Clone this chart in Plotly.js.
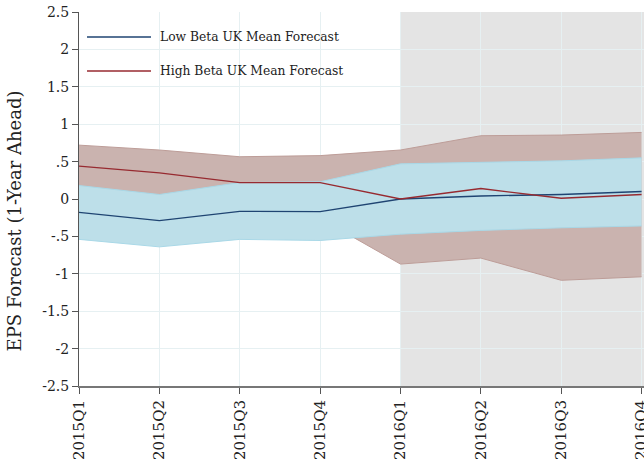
<!DOCTYPE html>
<html>
<head>
<meta charset="utf-8">
<script src="https://cdn.plot.ly/plotly-3.0.1.min.js"></script>
<style>html,body{margin:0;padding:0;background:#fff;}#chart{width:644px;height:460px;}</style>
</head>
<body>
<div id="chart"></div>
<script>
var quarters = ['2015Q1','2015Q2','2015Q3','2015Q4','2016Q1','2016Q2','2016Q3','2016Q4'];
var lowMean  = [-0.18, -0.29, -0.165, -0.17, 0.0, 0.04, 0.06, 0.10];
var highMean = [0.44, 0.35, 0.22, 0.22, 0.0, 0.14, 0.01, 0.06];
var lowUpper = [0.18, 0.06, 0.22, 0.23, 0.47, 0.495, 0.51, 0.55];
var lowLower = [-0.54, -0.64, -0.54, -0.555, -0.47, -0.42, -0.385, -0.36];
var highUpper = [0.72, 0.655, 0.565, 0.58, 0.655, 0.846, 0.855, 0.89];
var highLower = [0.15, 0.05, -0.10, -0.26, -0.87, -0.79, -1.087, -1.04];
var yTickVals = [-2.5,-2,-1.5,-1,-0.5,0,0.5,1,1.5,2,2.5];
var yTickText = ['-2.5','-2','-1.5','-1','-.5','0','.5','1','1.5','2','2.5'];
var legendNames = ['Low Beta UK Mean Forecast','High Beta UK Mean Forecast'];
var yTitle = 'EPS Forecast (1-Year Ahead)';

var xs = quarters.map(function(q, i){ return i; });
var FONT = 'DejaVu Serif';

var traces = [
  {x: xs, y: highLower, mode: 'lines', line: {color: '#bd9d98', width: 1}, hoverinfo: 'skip', showlegend: false},
  {x: xs, y: highUpper, mode: 'lines', fill: 'tonexty', fillcolor: '#cab3af', line: {color: '#bd9d98', width: 1}, hoverinfo: 'skip', showlegend: false},
  {x: xs, y: lowLower, mode: 'lines', line: {color: '#a9d8e7', width: 1}, hoverinfo: 'skip', showlegend: false},
  {x: xs, y: lowUpper, mode: 'lines', fill: 'tonexty', fillcolor: '#bddfe9', line: {color: '#a9d8e7', width: 1}, hoverinfo: 'skip', showlegend: false},
  {x: xs, y: lowMean, mode: 'lines', line: {color: '#1f4472', width: 1.3}, hoverinfo: 'skip', showlegend: false},
  {x: xs, y: highMean, mode: 'lines', line: {color: '#972a30', width: 1.3}, hoverinfo: 'skip', showlegend: false}
];

var layout = {
  width: 644, height: 460,
  margin: {l: 79, r: 0, t: 12, b: 74, pad: 0},
  paper_bgcolor: '#ffffff', plot_bgcolor: '#ffffff',
  font: {family: FONT, size: 12, color: '#222'},
  showlegend: false,
  xaxis: {
    range: [0, 7.03], tickmode: 'array', tickvals: xs, ticktext: quarters,
    tickangle: -90, ticks: 'outside', ticklen: 6, tickcolor: '#555', tickwidth: 1,
    showgrid: true, gridcolor: '#e6f0f2', gridwidth: 1,
    showline: true, linecolor: '#777', linewidth: 2,
    ticklabeloverflow: 'allow',
    zeroline: false, tickfont: {family: FONT, size: 15, color: '#222'}, fixedrange: true
  },
  yaxis: {
    range: [-2.5, 2.5], tickmode: 'array', tickvals: yTickVals, ticktext: yTickText,
    ticks: 'outside', ticklen: 6, tickcolor: '#555', tickwidth: 1,
    showgrid: true, gridcolor: '#e6f0f2', gridwidth: 1,
    showline: true, linecolor: '#555', linewidth: 1,
    zeroline: false, tickfont: {family: FONT, size: 14, color: '#222'}, fixedrange: true
  },
  shapes: [
    {type: 'rect', xref: 'x', yref: 'paper', x0: 4, x1: 7.03, y0: 0, y1: 1, fillcolor: '#e4e4e4', line: {width: 0}, layer: 'between'},
    {type: 'line', xref: 'paper', yref: 'paper', x0: 0.0142, x1: 0.1274, y0: 0.9332, y1: 0.9332, line: {color: '#1f4472', width: 1.3}},
    {type: 'line', xref: 'paper', yref: 'paper', x0: 0.0142, x1: 0.1274, y0: 0.8422, y1: 0.8422, line: {color: '#972a30', width: 1.3}}
  ],
  annotations: [
    {xref: 'paper', yref: 'paper', x: 0.1398, y: 0.9332, xanchor: 'left', yanchor: 'middle', text: legendNames[0], showarrow: false, font: {family: FONT, size: 12.3, color: '#222'}},
    {xref: 'paper', yref: 'paper', x: 0.1398, y: 0.8422, xanchor: 'left', yanchor: 'middle', text: legendNames[1], showarrow: false, font: {family: FONT, size: 12.3, color: '#222'}},
    {xref: 'paper', yref: 'paper', x: -0.1133, y: 0.4425, xanchor: 'center', yanchor: 'middle', textangle: -90, text: yTitle, showarrow: false, font: {family: FONT, size: 18, color: '#222'}}
  ]
};

Plotly.newPlot('chart', traces, layout, {displayModeBar: false, staticPlot: true});
</script>
</body>
</html>
